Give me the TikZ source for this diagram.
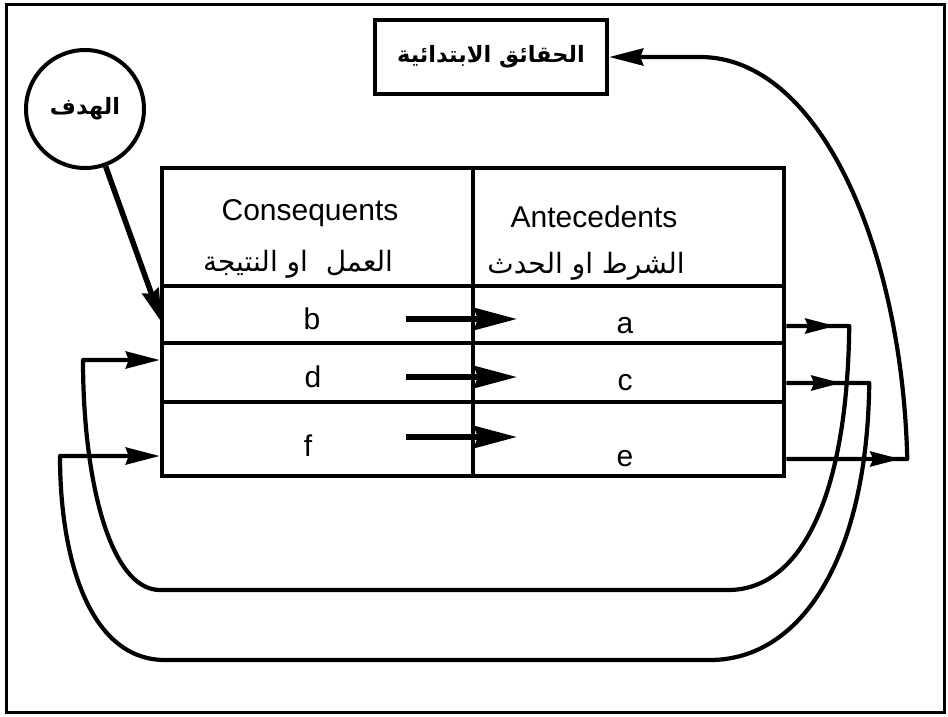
\documentclass[tikz,border=0pt]{standalone}
\usepackage{fontspec}
\setmainfont{Liberation Sans}
\newfontfamily\arabicfont[Script=Arabic]{DejaVu Sans}
\TeXXeTstate=1
\usetikzlibrary{arrows.meta,decorations.markings}

\newcommand{\artext}[1]{{\arabicfont\beginR #1\endR}}

\begin{document}
\begin{tikzpicture}[x=1pt, y=-1pt,
  lat/.style={font=\fontsize{30}{34}\selectfont, inner sep=0pt},
  arb/.style={font=\arabicfont\fontsize{28}{32}\selectfont, inner sep=0pt},
  arbbold/.style={font=\arabicfont\bfseries\fontsize{22.5}{26}\selectfont, inner sep=0pt},
  cellline/.style={line width=4.5pt},
  loopline/.style={line width=4.2pt, line join=round},
  midarr/.style={-{Stealth[length=43pt,width=22pt,inset=4pt]}, line width=5.5pt},
  endtip/.style={-{Stealth[length=34pt,width=17pt,inset=3pt]}},
  midtip/.style={postaction={decorate}, decoration={markings,
      mark=at position #1 with {\arrow{Stealth[length=30pt,width=15pt,inset=3pt]}}}}
]
\useasboundingbox (0,0) rectangle (948,716);

% Frame
\draw[line width=3pt] (6,4) rectangle (944,712);

% Goal and initial facts
\node[circle, draw, line width=4pt, minimum size=118pt, arbbold] (goal) at (85,109) {\artext{الهدف}};
\node[draw, line width=4.5pt, minimum width=232pt, minimum height=74pt, arbbold] (facts) at (491,57) {\artext{الحقائق الابتدائية}};

% Rule table
\node[draw, line width=4.5pt, minimum width=622pt, minimum height=308pt, inner sep=0pt] (tab) at (473,322) {};
\draw[cellline] (tab.north) -- (tab.south);
\foreach \y in {286,343,402}
  \draw[cellline] (tab.west |- 0,\y) -- (tab.east |- 0,\y);

\node[lat] (conhead) at (310,213) {Consequents};
\node[lat] (anthead) at (594,217) {Antecedents};
\node[arb] (conar) at (298,264) {\artext{العمل~~او النتيجة}};
\node[arb] (antar) at (586,266) {\artext{الشرط او الحدث}};

% Cells
\node[lat] (b) at (312,319) {b};
\node[lat] (a) at (625,326) {a};
\node[lat] (d) at (313,377) {d};
\node[lat] (c) at (625,383) {c};
\node[lat] (f) at (308,446) {f};
\node[lat] (e) at (625,459) {e};

% Consequent -> antecedent
\draw[midarr] (b -| 406,0) -- (b -| 517,0);
\draw[midarr] (d -| 406,0) -- (d -| 517,0);
\draw[midarr] ([yshift=9pt]f.center -| 406,0) -- ([yshift=9pt]f.center -| 517,0);

% Goal
\coordinate (goaltip) at (162,323);
\draw[line width=5.5pt, endtip] (goal) -- (goaltip);

% Loops back
\draw[loopline, midtip=49pt, endtip] (tab.east |- a) -- ++(63,0)
  .. controls +(-2,173) and (800,590) .. (728,590) -- (160,590)
  .. controls (110,590) and (83,480) .. (83,360) -- (tab.west |- 0,360);
\draw[loopline, midtip=55pt, endtip] (tab.east |- c) -- ++(83,0)
  .. controls +(-2,177) and (800,660) .. (710,660) -- (165,660)
  .. controls (90,660) and (60,560) .. (60,456) -- (tab.west |- 0,456);
\draw[loopline, midtip=114pt, endtip] (tab.east |- e) -- ++(121,0)
  .. controls +(-5,-210) and (820,0 |- facts.east) .. (700,0 |- facts.east) -- (facts.east);
\end{tikzpicture}
\end{document}
